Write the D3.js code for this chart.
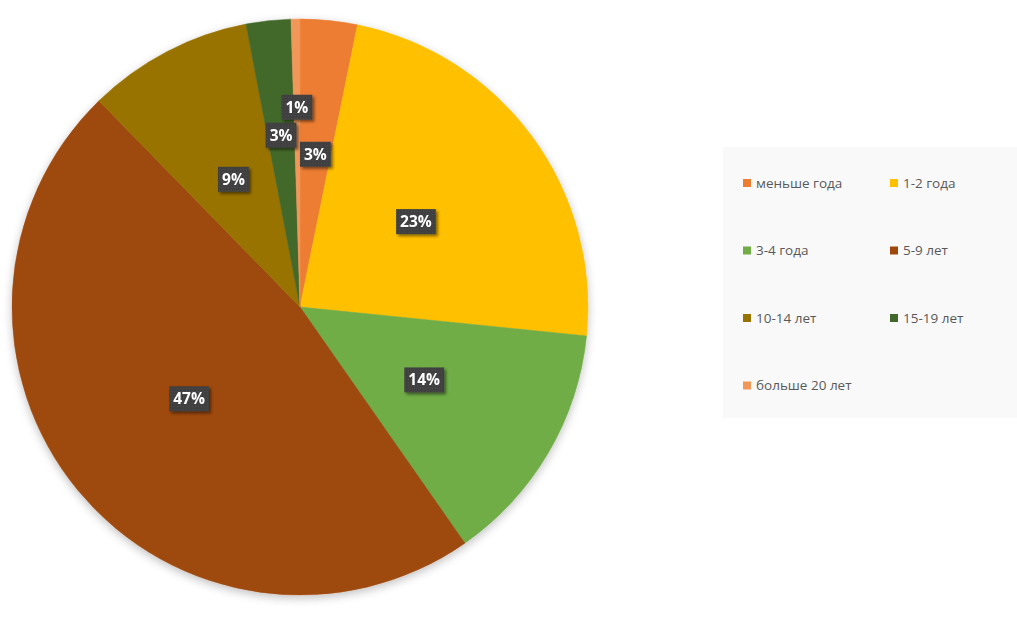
<!DOCTYPE html>
<html>
<head>
<meta charset="utf-8">
<script src="https://cdn.jsdelivr.net/npm/d3@7"></script>
<style>
  body { margin: 0; background: #fff; }
  svg { display: block; }
</style>
</head>
<body>
<div id="graph"></div>
<script>
// share of respondents by length of service, percent
var categories = ["меньше года", "1-2 года", "3-4 года", "5-9 лет", "10-14 лет", "15-19 лет", "больше 20 лет"];
var values = [3.2, 23.4, 13.7, 47.4, 9.3, 2.5, 0.5];
var colors = ["#ED7D31", "#FFC000", "#70AD47", "#9E480E", "#997300", "#43682B", "#F1975A"];

var W = 1017, H = 617;
var cx = 300, cy = 307, radius = 288;

var svg = d3.select("#graph").append("svg")
    .attr("width", W)
    .attr("height", H);

var defs = svg.append("defs");
var shadow = defs.append("filter").attr("id", "pieShadow")
    .attr("x", "-10%").attr("y", "-10%").attr("width", "120%").attr("height", "120%");
shadow.append("feGaussianBlur").attr("in", "SourceAlpha").attr("stdDeviation", 5);
shadow.append("feOffset").attr("dx", 0).attr("dy", 3).attr("result", "blur");
shadow.append("feComponentTransfer").append("feFuncA").attr("type", "linear").attr("slope", 0.25);
var fm = shadow.append("feMerge");
fm.append("feMergeNode");
fm.append("feMergeNode").attr("in", "SourceGraphic");

var boxShadow = defs.append("filter").attr("id", "boxShadow")
    .attr("x", "-30%").attr("y", "-30%").attr("width", "160%").attr("height", "160%");
boxShadow.append("feGaussianBlur").attr("in", "SourceAlpha").attr("stdDeviation", 1.5);
boxShadow.append("feOffset").attr("dx", 2).attr("dy", 2).attr("result", "b");
boxShadow.append("feComponentTransfer").append("feFuncA").attr("type", "linear").attr("slope", 0.5);
var bm = boxShadow.append("feMerge");
bm.append("feMergeNode");
bm.append("feMergeNode").attr("in", "SourceGraphic");

var dots = defs.append("pattern").attr("id", "dots")
    .attr("width", 3).attr("height", 3).attr("patternUnits", "userSpaceOnUse");
dots.append("rect").attr("width", 3).attr("height", 3).attr("fill", "#404040");
dots.append("rect").attr("width", 1).attr("height", 1).attr("fill", "#4c4c4c");

var data = categories.map(function(c, i) {
    return {name: c, value: values[i], color: colors[i]};
});
var total = d3.sum(values);

var pie = d3.pie().sort(null).value(function(d) { return d.value; });
var arc = d3.arc().innerRadius(0).outerRadius(radius);
var arcs = pie(data);

var g = svg.append("g").attr("transform", "translate(" + cx + "," + cy + ")");

g.append("g").attr("filter", "url(#pieShadow)")
    .selectAll("path")
    .data(arcs)
    .enter().append("path")
    .attr("d", arc)
    .attr("fill", function(d) { return d.data.color; })
    .attr("stroke", function(d) { return d.data.color; })
    .attr("stroke-width", 0.5);

// data labels: half way out (further for thin slices), pushed outward on collision
var labelLayer = g.append("g");
var placed = [];
arcs.forEach(function(d) {
    var lg = labelLayer.append("g").attr("filter", "url(#boxShadow)");
    var txt = lg.append("text")
        .attr("text-anchor", "middle")
        .attr("dy", "0.36em")
        .style("font-family", "'Open Sans', 'Liberation Sans', sans-serif")
        .style("font-weight", "bold")
        .style("font-size", "15.5px")
        .attr("fill", "#fff")
        .text(Math.round(d.data.value / total * 100) + "%");
    var bb = txt.node().getBBox();
    var bw = bb.width + 8, bh = 25;
    var mid = (d.startAngle + d.endAngle) / 2;
    var fitR = bw / (d.endAngle - d.startAngle);
    var r = Math.min(Math.max(radius * 0.5, fitR), radius * 0.6), x, y;
    for (var k = 0; k < 60; k++) {
        x = Math.sin(mid) * r;
        y = -Math.cos(mid) * r;
        var hit = placed.some(function(p) {
            return Math.abs(p.x - x) < (p.w + bw) / 2 + 3 && Math.abs(p.y - y) < (p.h + bh) / 2 + 3;
        });
        if (!hit) break;
        r += 3;
    }
    placed.push({x: x, y: y, w: bw, h: bh});
    lg.insert("rect", "text")
        .attr("x", x - bw / 2).attr("y", y - bh / 2)
        .attr("width", bw).attr("height", bh)
        .attr("fill", "url(#dots)");
    txt.attr("x", x).attr("y", y);
});

// legend
var legend = svg.append("g").attr("transform", "translate(723,147)");
legend.append("rect")
    .attr("width", 294).attr("height", 271)
    .attr("fill", "#f9f9f9");

var item = legend.selectAll(".item")
    .data(data)
    .enter().append("g")
    .attr("class", "item")
    .attr("transform", function(d, i) {
        return "translate(" + (20 + (i % 2) * 147) + "," + (36 + Math.floor(i / 2) * 67.5) + ")";
    });
item.append("rect")
    .attr("x", 0).attr("y", -4)
    .attr("width", 8).attr("height", 8)
    .attr("fill", function(d) { return d.color; });
item.append("text")
    .attr("x", 13).attr("dy", "0.35em")
    .style("font-family", "'Open Sans', 'Liberation Sans', sans-serif")
    .style("font-size", "13.5px")
    .attr("fill", "#595959")
    .text(function(d) { return d.name; });
</script>
</body>
</html>
